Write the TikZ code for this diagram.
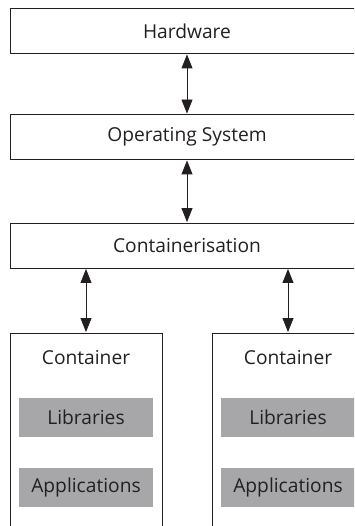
\documentclass[tikz,border=0pt]{standalone}
\usepackage{fontspec}
\setmainfont{Open Sans}
\usetikzlibrary{arrows.meta,positioning}

\definecolor{inkgray}{RGB}{35,31,32}
\definecolor{boxgray}{RGB}{167,167,170}

\tikzset{
  layer/.style={draw=inkgray,line width=0.9pt,minimum width=354pt,minimum height=45pt,inner sep=0pt},
  cont/.style={draw=inkgray,line width=0.9pt,minimum width=152pt,minimum height=220pt,inner sep=0pt},
  part/.style={fill=boxgray,minimum width=134pt,minimum height=39pt,inner sep=0pt},
  link/.style={{Triangle[length=14pt,width=11pt]}-{Triangle[length=14pt,width=11pt]},draw=inkgray,line width=0.9pt,shorten <=0.5pt,shorten >=0.5pt}
}

\begin{document}
\begin{tikzpicture}[x=1pt,y=-1pt,font=\fontsize{19.2}{22}\selectfont,text=inkgray]
  \useasboundingbox (0,0) rectangle (354,526);
  \clip (0,0) rectangle (354,526);

  % stack of layers
  \node[layer] (hw) at (187,31) {Hardware};
  \node[layer] (os) at (187,137) {Operating System};
  \node[layer] (ct) at (187,245.5) {Containerisation};

  % the two containers
  \node[cont] (c1) at (86,443) {};
  \node[cont] (c2) at (288,443) {};
  \foreach \c in {c1,c2}{
    \node (\c lbl) at ([yshift=-25pt]\c.north) {Container};
    \node[part] (\c lib) at ([yshift=-84.5pt]\c.north) {Libraries};
    \node[part] (\c app) at ([yshift=-154.5pt]\c.north) {Applications};
  }

  \draw[link] (hw) -- (os);
  \draw[link] (os) -- (ct);
  \draw[link] (ct.south -| c1) -- (c1);
  \draw[link] (ct.south -| c2) -- (c2);
\end{tikzpicture}
\end{document}
